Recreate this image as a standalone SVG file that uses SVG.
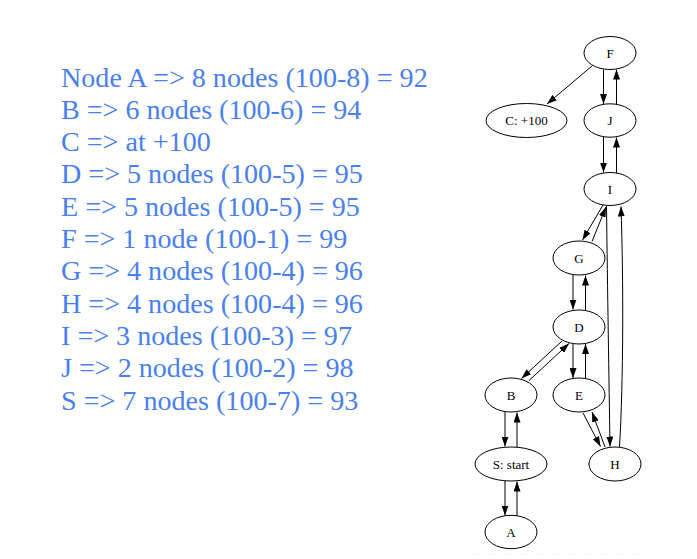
<svg xmlns="http://www.w3.org/2000/svg" width="697" height="559" viewBox="0 0 697 559">
<defs>
<marker id="ah" viewBox="0 0 10 7" refX="10" refY="3.5" markerWidth="10" markerHeight="7" markerUnits="userSpaceOnUse" orient="auto">
<path d="M0,0 L10,3.5 L0,7 z" fill="#000"/>
</marker>
<style>
.t{font-family:"Liberation Serif","Times New Roman",serif;font-size:28.1px;fill:#4a80ee}
.n ellipse{fill:#fff;stroke:#000;stroke-width:1}
.n text{font-family:"Liberation Serif","Times New Roman",serif;font-size:13px;fill:#000;text-anchor:middle}
.e path{fill:none;stroke:#000;stroke-width:1;marker-end:url(#ah)}
</style>
</defs>
<rect width="697" height="559" fill="#fff"/>
<g id="legend">
<text class="t" x="61" y="86.5">Node A =&gt; 8 nodes (100-8) = 92</text>
<text class="t" x="61" y="118.8">B =&gt; 6 nodes (100-6) = 94</text>
<text class="t" x="61" y="151.1">C =&gt; at +100</text>
<text class="t" x="61" y="183.4">D =&gt; 5 nodes (100-5) = 95</text>
<text class="t" x="61" y="215.7">E =&gt; 5 nodes (100-5) = 95</text>
<text class="t" x="61" y="248">F =&gt; 1 node (100-1) = 99</text>
<text class="t" x="61" y="280.3">G =&gt; 4 nodes (100-4) = 96</text>
<text class="t" x="61" y="312.6">H =&gt; 4 nodes (100-4) = 96</text>
<text class="t" x="61" y="344.9">I =&gt; 3 nodes (100-3) = 97</text>
<text class="t" x="61" y="377.2">J =&gt; 2 nodes (100-2) = 98</text>
<text class="t" x="61" y="409.5">S =&gt; 7 nodes (100-7) = 93</text>
</g>
<g id="connectors" class="e">
<path d="M592,66 L547,104"/>
<path d="M603.5,69.5 L603.5,104"/>
<path d="M616.5,104.5 L616.5,69.5"/>
<path d="M603.5,137 L603.5,172.5"/>
<path d="M616.5,173 L616.5,137.5"/>
<path d="M603,205 L582.5,240"/>
<path d="M592,241.5 L606,207"/>
<path d="M606.5,206 C607.5,290 609,380 610,446.5"/>
<path d="M619.5,447 C623.5,380 623.5,280 621,206.5"/>
<path d="M573,275 L573,309.5"/>
<path d="M585.5,310 L585.5,275.5"/>
<path d="M562,341 L521.5,378.5"/>
<path d="M529,380.5 L569,343.5"/>
<path d="M573,344 L573,378"/>
<path d="M585.5,378 L585.5,344"/>
<path d="M583,413 L600.5,446.5"/>
<path d="M605,447 L592,412"/>
<path d="M505,412 L505,446.5"/>
<path d="M517,447 L517,412.5"/>
<path d="M505,481 L505,515.5"/>
<path d="M517,516 L517,481.5"/>
</g>
<g id="node-F" class="n"><ellipse cx="610" cy="53" rx="26" ry="16.5"/><text x="610" y="57.5">F</text></g>
<g id="node-C" class="n"><ellipse cx="526.5" cy="120.5" rx="40.5" ry="17"/><text x="526.5" y="125">C: +100</text></g>
<g id="node-J" class="n"><ellipse cx="610" cy="120.5" rx="26" ry="16.7"/><text x="610" y="125">J</text></g>
<g id="node-I" class="n"><ellipse cx="610" cy="189" rx="26" ry="16.5"/><text x="610" y="193.5">I</text></g>
<g id="node-G" class="n"><ellipse cx="579" cy="258" rx="26" ry="17"/><text x="579" y="262.5">G</text></g>
<g id="node-D" class="n"><ellipse cx="579" cy="327" rx="26" ry="17"/><text x="579" y="331.5">D</text></g>
<g id="node-B" class="n"><ellipse cx="511" cy="395" rx="26" ry="17"/><text x="511" y="399.5">B</text></g>
<g id="node-E" class="n"><ellipse cx="579" cy="395" rx="26" ry="17"/><text x="579" y="399.5">E</text></g>
<g id="node-S" class="n"><ellipse cx="511" cy="464" rx="36" ry="17"/><text x="511" y="468.5">S: start</text></g>
<g id="node-H" class="n"><ellipse cx="615" cy="464" rx="26" ry="17"/><text x="615" y="468.5">H</text></g>
<g id="node-A" class="n"><ellipse cx="511" cy="532" rx="26" ry="16.7"/><text x="511" y="536.5">A</text></g>
<line x1="472" y1="554" x2="640" y2="554" stroke="#f3f3f3" stroke-width="1" stroke-dasharray="8,8"/>
</svg>
